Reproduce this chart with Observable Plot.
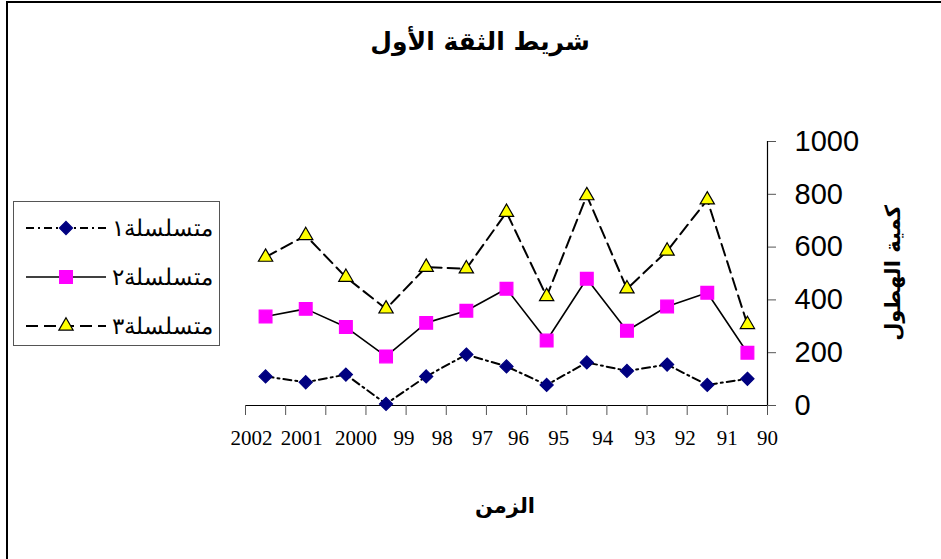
<!DOCTYPE html>
<html><head><meta charset="utf-8">
<script src="https://cdn.jsdelivr.net/npm/d3@7"></script>
<script src="https://cdn.jsdelivr.net/npm/@observablehq/plot@0.6"></script>
<style>
body{margin:0;background:#fff;}
#wrap{position:relative;width:941px;height:559px;overflow:hidden;background:#fff;}
#frame{position:absolute;left:6px;top:1px;width:1000px;height:1000px;border-left:2px solid #000;border-top:2px solid #000;box-sizing:border-box;}
#chart{position:absolute;left:0;top:0;}
#title{position:absolute;left:0;width:960px;top:27px;text-align:center;direction:rtl;font:bold 25px "DejaVu Sans",sans-serif;color:#000;}
#xtitle{position:absolute;left:0;width:1010px;top:494px;text-align:center;direction:rtl;font:bold 21px "DejaVu Sans",sans-serif;color:#000;}
#ytitle{position:absolute;left:893px;top:273px;transform:translate(-50%,-50%) rotate(-90deg);white-space:nowrap;direction:rtl;font:bold 21px "DejaVu Sans",sans-serif;color:#000;}
#legend{position:absolute;left:13px;top:201px;width:207px;height:145px;border:1px solid #555;box-sizing:border-box;}
.row{position:absolute;left:0;width:205px;height:40px;}
.row svg{position:absolute;left:10px;top:0;}
.row span{position:absolute;right:6px;top:50%;transform:translateY(-50%);direction:rtl;font:23px "Liberation Serif","DejaVu Serif",serif;white-space:nowrap;}
</style></head>
<body>
<div id="wrap">
<div id="chart"></div>
<div id="frame"></div>
<div id="title"></div>
<div id="xtitle"></div>
<div id="ytitle"></div>
<div id="legend"></div>
</div>
<script>
// ---- data ----
const titleText = "شريط الثقة الأول";
const xTitle = "الزمن";
const yTitle = "كمية الهطول";
const seriesNames = ["متسلسلة١", "متسلسلة٢", "متسلسلة٣"];
const years = ["2002","2001","2000","99","98","97","96","95","94","93","92","91","90"];
const series1 = [110, 88, 117, 6, 110, 193, 148, 78, 163, 131, 155, 78, 101];
const series2 = [337, 366, 297, 186, 313, 359, 442, 246, 480, 283, 375, 427, 200];
const series3 = [562, 644, 486, 366, 524, 518, 732, 413, 795, 442, 585, 779, 307];
const tickLabels = ["2002","2001","2000","99","98","97","96","95","94","93","92","91","90"];
const tickLabelPos = [0.15, 1.4, 2.75, 3.95, 4.9, 5.9, 6.8, 7.8, 8.9, 9.95, 10.95, 12, 13];
const yTicks = [0, 200, 400, 600, 800, 1000];

// ---- styles ----
const styles = [
  {symbol: "diamond2", fill: "#000080", stroke: "#000080", r: 5.9, dash: "8,4,2,4", width: 2},
  {symbol: "square", fill: "#FF00FF", stroke: "#FF00FF", r: 7.2, dash: null, width: 1.6},
  {symbol: "triangle", fill: "#FFFF00", stroke: "#000", r: 5.3, dash: "12,6", width: 2}
];
const allSeries = [series1, series2, series3];
const rows = [];
allSeries.forEach((vals, s) => vals.forEach((v, i) => rows.push({s, i, x: i + 0.5, year: years[i], v})));

const catTicks = d3.range(0, years.length + 1);
const labelRows = tickLabels.map((t, i) => ({t, p: tickLabelPos[i]}));

const marks = [
  Plot.ruleY([0], {stroke: "#000", strokeWidth: 1.2}),
  Plot.ruleX([years.length], {stroke: "#000", strokeWidth: 1.2}),
  Plot.axisX(catTicks, {anchor: "bottom", tickSize: 10, tickFormat: () => "", stroke: "#555", label: null}),
  Plot.axisY(yTicks, {anchor: "right", tickSize: 8, tickPadding: 19, tickFormat: d => String(d), fontSize: 29, fontFamily: "Liberation Sans, Arial, sans-serif", stroke: "#555", fill: "#000", label: null}),
  Plot.text(labelRows, {x: "p", y: () => 0, text: "t", dy: 33, fontSize: 21, fontFamily: "Liberation Serif, serif", fill: "#000"})
];
styles.forEach((st, s) => {
  const data = rows.filter(d => d.s === s);
  marks.push(Plot.line(data, {x: "x", y: "v", stroke: "#000", strokeWidth: st.width, strokeDasharray: st.dash || undefined}));
});
styles.forEach((st, s) => {
  const data = rows.filter(d => d.s === s);
  marks.push(Plot.dot(data, {x: "x", y: "v", symbol: () => st.symbol, r: st.r, fill: st.fill, stroke: st.stroke, strokeWidth: 1.2}));
});

const plot = Plot.plot({
  width: 941, height: 559,
  marginLeft: 245, marginRight: 174, marginTop: 141, marginBottom: 154,
  x: {domain: [0, years.length], axis: null},
  y: {domain: [0, 1000], axis: null},
  symbol: {type: "identity"},
  style: {background: "transparent", overflow: "visible"},
  marks
});
document.getElementById("chart").appendChild(plot);

document.getElementById("title").textContent = titleText;
document.getElementById("xtitle").textContent = xTitle;
document.getElementById("ytitle").textContent = yTitle;

// ---- legend ----
const symMap = {diamond2: d3.symbolDiamond2, square: d3.symbolSquare, triangle: d3.symbolTriangle};
const legend = document.getElementById("legend");
const rowCenters = [26, 75, 124];
styles.forEach((st, s) => {
  const row = document.createElement("div");
  row.className = "row";
  row.style.top = (rowCenters[s] - 20) + "px";
  const svg = d3.create("svg").attr("width", 84).attr("height", 40);
  svg.append("line").attr("x1", 2).attr("x2", 82).attr("y1", 20).attr("y2", 20)
    .attr("stroke", "#000").attr("stroke-width", st.width)
    .attr("stroke-dasharray", st.dash || null);
  svg.append("path").attr("transform", "translate(42,20)")
    .attr("d", d3.symbol(symMap[st.symbol], Math.PI * st.r * st.r)())
    .attr("fill", st.fill).attr("stroke", st.stroke).attr("stroke-width", 1.2);
  row.appendChild(svg.node());
  const span = document.createElement("span");
  span.textContent = seriesNames[s];
  row.appendChild(span);
  legend.appendChild(row);
});
</script>
</body></html>
